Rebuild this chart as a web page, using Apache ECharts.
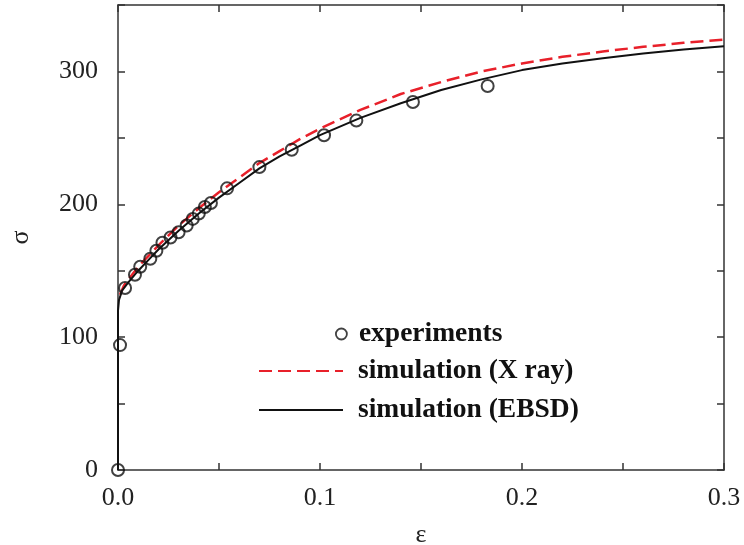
<!DOCTYPE html>
<html><head><meta charset="utf-8">
<script src="https://cdn.jsdelivr.net/npm/echarts@6/dist/echarts.min.js"></script>
<style>html,body{margin:0;padding:0;background:#fff}#c{width:744px;height:545px}</style>
</head><body><div id="c"></div>
<script>
// experiments: [strain, stress]
const experiments = [[0,0],[0.001,94],[0.0035,137],[0.0084,147],[0.011,153],[0.016,159],[0.019,165],[0.022,171],[0.026,175],[0.030,179],[0.034,184],[0.037,189],[0.040,193],[0.043,198],[0.046,201],[0.054,212],[0.070,228],[0.086,241],[0.102,252],[0.118,263],[0.146,277],[0.183,289]];
const simXray = [[0.001,132],[0.003,139],[0.006,145],[0.01,153],[0.015,161],[0.02,169],[0.03,184],[0.04,197],[0.05,209],[0.06,220],[0.07,231],[0.08,240],[0.09,249],[0.1,257],[0.12,271],[0.14,283],[0.16,292],[0.18,300],[0.2,306],[0.22,311],[0.24,315],[0.26,318.5],[0.28,321.5],[0.3,324]];
const simEBSD = [[0,0],[0,120],[0.0005,128],[0.002,135],[0.005,141],[0.01,150],[0.015,158],[0.02,166],[0.03,180],[0.04,193],[0.05,205],[0.06,216],[0.07,227],[0.08,236],[0.09,244],[0.1,252],[0.12,265],[0.14,276],[0.16,286],[0.18,294],[0.2,301],[0.22,306],[0.24,310],[0.26,313.5],[0.28,316.5],[0.3,319]];
const seriesNames = ['experiments','simulation (X ray)','simulation (EBSD)'];
const xLabel = 'ε', yLabel = 'σ';

const font = 'Liberation Serif';
const axisColor = '#333';
const chart = echarts.init(document.getElementById('c'));
const legendText = {fontFamily: font, fontWeight: 'bold', fontSize: 27.5, color: '#111', lineHeight: 30};
const lineLegendStyle = {color: 'rgba(0,0,0,0)', borderWidth: 0, opacity: 0};
const tickStyle = {inside: true, length: 7, lineStyle: {color: axisColor, width: 1.5}};
const lineStyleAxis = {show: true, onZero: false, lineStyle: {color: axisColor, width: 1.5}};
chart.setOption({
  animation: false,
  grid: {left: 118, top: 5, right: 20, bottom: 75, outerBoundsMode: 'none', containLabel: false},
  legend: [
    {data: [seriesNames[0]], left: 335, top: 319, padding: 0, itemWidth: 11, itemHeight: 11,
      itemStyle: {borderWidth: 1.8},
      textStyle: Object.assign({}, legendText, {padding: [0,0,0,7]})},
    {data: [seriesNames[1]], left: 258, top: 356, padding: 0, itemWidth: 84, itemHeight: 14,
      itemStyle: lineLegendStyle,
      textStyle: Object.assign({}, legendText, {padding: [0,0,0,10]})},
    {data: [seriesNames[2]], left: 258, top: 395, padding: 0, itemWidth: 84, itemHeight: 14,
      itemStyle: lineLegendStyle,
      textStyle: Object.assign({}, legendText, {padding: [0,0,0,10]})}
  ],
  xAxis: [{
    type: 'value', min: 0, max: 0.3, interval: 0.05,
    name: xLabel, nameLocation: 'middle', nameGap: 52,
    nameTextStyle: {fontFamily: font, fontSize: 26, color: '#222'},
    axisLine: lineStyleAxis, axisTick: tickStyle,
    splitLine: {show: false},
    axisLabel: {fontFamily: font, fontSize: 26, color: '#222', margin: 15,
      formatter: v => (Math.round(v*100) % 10 === 0) ? v.toFixed(1) : ''}
  },{
    type: 'value', min: 0, max: 0.3, interval: 0.05, position: 'top',
    axisLine: lineStyleAxis, axisTick: tickStyle,
    axisLabel: {show: false}, splitLine: {show: false}
  }],
  yAxis: [{
    type: 'value', min: 0, max: 350, interval: 50,
    name: yLabel, nameLocation: 'middle', nameGap: 84,
    nameTextStyle: {fontFamily: font, fontSize: 26, color: '#222'},
    axisLine: lineStyleAxis, axisTick: tickStyle,
    splitLine: {show: false},
    axisLabel: {fontFamily: font, fontSize: 26, color: '#222', margin: 20, padding: [7,0,0,0],
      formatter: v => (v % 100 === 0) ? String(v) : ''}
  },{
    type: 'value', min: 0, max: 350, interval: 50, position: 'right',
    axisLine: lineStyleAxis, axisTick: tickStyle,
    axisLabel: {show: false}, splitLine: {show: false}
  }],
  series: [
    {name: seriesNames[1], type: 'line', data: simXray, showSymbol: false, symbol: 'none', z: 2,
      lineStyle: {color: '#e8202a', width: 2.5, type: [13, 6]}, itemStyle: {color: '#e8202a'}},
    {name: seriesNames[2], type: 'line', data: simEBSD, showSymbol: false, symbol: 'none', z: 3,
      lineStyle: {color: '#111', width: 2}, itemStyle: {color: '#111'}},
    {name: seriesNames[0], type: 'scatter', data: experiments, symbol: 'circle', symbolSize: 12, z: 4,
      itemStyle: {color: 'rgba(255,255,255,0)', borderColor: '#111', borderWidth: 2}}
  ]
});
</script></body></html>
